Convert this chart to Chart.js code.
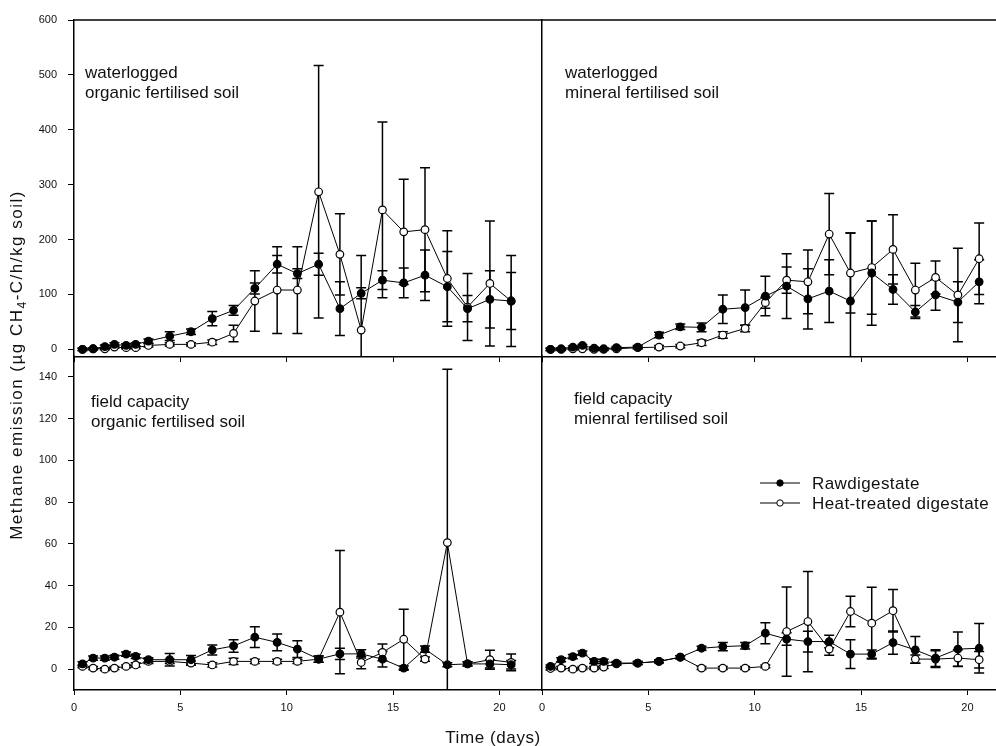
<!DOCTYPE html>
<html>
<head>
<meta charset="utf-8">
<title>Methane emission</title>
<script src="https://cdn.jsdelivr.net/npm/chart.js@4.4.1/dist/chart.umd.min.js"></script>
<style>
    html, body { margin: 0; padding: 0; background: #fff; overflow: hidden; }
    #figure { position: relative; width: 996px; height: 746px; }
    #figure canvas { position: absolute; left: 0; top: 0; }
</style>
</head>
<body>
<div id="figure">
    <canvas id="panelTL" width="996" height="746"></canvas>
    <canvas id="panelTR" width="996" height="746"></canvas>
    <canvas id="panelBL" width="996" height="746"></canvas>
    <canvas id="panelBR" width="996" height="746"></canvas>
</div>
<script>
// ============================================
// DATA
// ============================================

// sampling days, shared by every panel
const DAYS = [0.4, 0.9, 1.45, 1.9, 2.45, 2.9, 3.5, 4.5, 5.5, 6.5, 7.5, 8.5, 9.55, 10.5, 11.5, 12.5, 13.5, 14.5, 15.5, 16.5, 17.55, 18.5, 19.55, 20.55];

// waterlogged, organic fertilised soil
const WO_RAW      = [0, 1, 5, 9, 7, 9, 15, 24, 32, 56, 71, 111, 155, 138, 155, 74, 102, 126, 121, 135, 114, 74, 91, 88];
const WO_RAW_ERR  = [2, 2, 3, 3, 3, 3, 4, 8, 5, 13, 9, 10, 16, 9, 20, 49, 10, 17, 27, 46, 64, 24, 52, 52];
const WO_HEAT     = [0, 1, 1, 4, 3, 3, 7, 9, 9, 13, 29, 88, 108, 108, 287, 173, 35, 254, 214, 218, 129, 77, 120, 88];
const WO_HEAT_ERR = [2, 2, 2, 2, 2, 2, 3, 3, 3, 4, 15, 55, 79, 79, 230, 74, 136, 160, 96, 113, 87, 61, 114, 83];

// waterlogged, mineral fertilised soil
const WM_RAW      = [0, 1, 4, 7, 2, 1, 3, 4, 26, 41, 40, 73, 76, 97, 115, 92, 106, 88, 139, 109, 68, 99, 86, 123];
const WM_RAW_ERR  = [2, 2, 2, 2, 2, 2, 2, 3, 5, 5, 8, 26, 32, 36, 59, 55, 57, 124, 95, 27, 12, 28, 37, 40];
const WM_HEAT     = [0, 0, 1, 1, 0, 0, 1, 3, 4, 6, 12, 26, 38, 85, 126, 123, 210, 139, 149, 182, 108, 131, 99, 165];
const WM_HEAT_ERR = [2, 2, 2, 2, 2, 2, 2, 2, 3, 3, 5, 6, 6, 10, 24, 58, 74, 73, 85, 63, 49, 30, 85, 65];

// field capacity, organic fertilised soil
const FO_RAW      = [2.5, 5.3, 5.3, 5.7, 7.2, 6.1, 4.5, 4.5, 4.5, 9.2, 11.1, 15.3, 12.8, 9.6, 4.8, 7.3, 7.3, 4.8, 0.5, 9.6, 2.1, 2.5, 2.5, 2.1];
const FO_RAW_ERR  = [1, 1, 1, 1, 1, 1, 1, 3, 2, 2.4, 3, 5, 4, 4, 1.5, 2.7, 2, 3.8, 1, 1.5, 1, 1, 2, 2];
const FO_HEAT     = [1.3, 0.5, 0, 0.5, 1.3, 2, 3.7, 3.7, 2.9, 2, 3.7, 3.7, 3.7, 3.7, 4.8, 27.3, 3.2, 8, 14.3, 4.8, 60.6, 2.5, 4.5, 3.2];
const FO_HEAT_ERR = [0.7, 0.7, 0.7, 0.7, 0.7, 1, 1, 1, 1, 1, 1.5, 1, 1, 1, 1.5, 29.5, 3, 4, 14.4, 1, 83, 1, 4.5, 4];

// field capacity, mineral fertilised soil
const FM_RAW      = [1.3, 4.5, 6, 7.7, 3.7, 3.7, 2.9, 2.9, 3.7, 5.7, 10, 10.8, 11.2, 17.2, 14.4, 13.2, 13.2, 7.2, 7.2, 12.7, 9.2, 5.3, 9.6, 10];
const FM_RAW_ERR  = [0.7, 1, 1, 1, 1, 1, 0.7, 0.7, 0.7, 0.7, 1, 2, 1.5, 5, 3, 5, 3, 6.9, 2, 5.6, 6.4, 4, 8.2, 11.8];
const FM_HEAT     = [0.3, 0.5, 0, 0.5, 0.5, 1, 2.5, 2.9, 3.7, 5.7, 0.5, 0.5, 0.5, 1.3, 18, 22.8, 9.6, 27.6, 22, 28, 4.8, 4.8, 5.3, 4.5];
const FM_HEAT_ERR = [0.7, 0.7, 0.7, 0.7, 0.7, 0.7, 0.7, 0.7, 0.7, 0.7, 0.7, 0.7, 0.7, 0.7, 21.4, 24, 3, 7.3, 17.2, 10.2, 2, 4, 4, 4];

// axis ticks
const X_TICKS = [0, 5, 10, 15, 20];
const Y_TICKS_TOP = [0, 100, 200, 300, 400, 500, 600];
const Y_TICKS_BOTTOM = [0, 20, 40, 60, 80, 100, 120, 140];

// texts
const SERIES_LABELS = ['Rawdigestate', 'Heat-treated digestate'];
const X_TITLE = 'Time (days)';
const Y_TITLE_PARTS = ['Methane emission (\u00b5g CH', '4', '-C/h/kg soil)'];

// ============================================
// LAYOUT
// ============================================
const FONT = "'Liberation Sans', Arial, sans-serif";
const W = 996, H = 746;
const Y_AXIS_W = 48;   // room for left tick labels
const X_AXIS_H = 30;   // room for bottom tick labels
const CAP = 5;         // half width of error bar caps

/**
 * Error bars, drawn under the markers, clipped to the plot area
 */
const errorBarsPlugin = {
    id: 'errorBars',
    beforeDatasetsDraw(chart) {
        const { ctx, chartArea: a, scales: { x, y } } = chart;
        ctx.save();
        ctx.beginPath();
        ctx.rect(a.left, a.top, a.right - a.left, a.bottom - a.top);
        ctx.clip();
        ctx.strokeStyle = '#000';
        ctx.lineWidth = 1.5;
        chart.data.datasets.forEach(ds => {
            (ds.errors || []).forEach((err, i) => {
                const p = ds.data[i];
                const px = x.getPixelForValue(p.x);
                const top = y.getPixelForValue(p.y + err);
                const bot = y.getPixelForValue(p.y - err);
                ctx.beginPath();
                ctx.moveTo(px, top); ctx.lineTo(px, bot);
                ctx.moveTo(px - CAP, top); ctx.lineTo(px + CAP, top);
                ctx.moveTo(px - CAP, bot); ctx.lineTo(px + CAP, bot);
                ctx.stroke();
            });
        });
        ctx.restore();
    }
};

/**
 * Frame top line, panel caption, legend and shared axis titles
 */
const decorPlugin = {
    id: 'decor',
    afterDraw(chart, args, opts) {
        const { ctx, chartArea: a } = chart;
        ctx.save();
        ctx.fillStyle = '#111';
        ctx.strokeStyle = '#000';

        if (opts.topBorder) {
            ctx.lineWidth = 1.5;
            ctx.beginPath();
            ctx.moveTo(a.left, a.top);
            ctx.lineTo(a.right, a.top);
            ctx.stroke();
        }

        // caption, two lines
        ctx.font = `17px ${FONT}`;
        ctx.textBaseline = 'middle';
        ctx.textAlign = 'left';
        (opts.caption || []).forEach((line, i) => {
            ctx.fillText(line, opts.captionX, opts.captionY + i * 20);
        });

        if (opts.legend) {
            const lg = opts.legend;
            const fills = ['#000', '#fff'];
            SERIES_LABELS.forEach((label, i) => {
                const ly = lg.y + i * 20;
                ctx.lineWidth = 1.2;
                ctx.beginPath();
                ctx.moveTo(lg.x, ly);
                ctx.lineTo(lg.x + 40, ly);
                ctx.stroke();
                ctx.beginPath();
                ctx.arc(lg.x + 20, ly, 3.2, 0, Math.PI * 2);
                ctx.fillStyle = fills[i];
                ctx.fill();
                ctx.lineWidth = 1;
                ctx.stroke();
                ctx.fillStyle = '#111';
                ctx.letterSpacing = '0.4px';
                ctx.fillText(label, lg.x + 52, ly + 1);
                ctx.letterSpacing = '0px';
            });
        }

        if (opts.titles) {
            // x title
            ctx.font = `17px ${FONT}`;
            ctx.textAlign = 'center';
            ctx.textBaseline = 'alphabetic';
            ctx.letterSpacing = '0.6px';
            ctx.fillText(X_TITLE, 493, 743);

            // y title with subscript 4
            ctx.letterSpacing = '1.5px';
            const big = `17px ${FONT}`, small = `12px ${FONT}`;
            ctx.font = big;
            const w0 = ctx.measureText(Y_TITLE_PARTS[0]).width;
            const w2 = ctx.measureText(Y_TITLE_PARTS[2]).width;
            ctx.font = small;
            const w1 = ctx.measureText(Y_TITLE_PARTS[1]).width;
            const total = w0 + w1 + w2;
            ctx.translate(22, 365);
            ctx.rotate(-Math.PI / 2);
            ctx.textAlign = 'left';
            let cx = -total / 2;
            ctx.font = big;
            ctx.fillText(Y_TITLE_PARTS[0], cx, 0);
            cx += w0;
            ctx.font = small;
            ctx.fillText(Y_TITLE_PARTS[1], cx, 4);
            cx += w1;
            ctx.font = big;
            ctx.fillText(Y_TITLE_PARTS[2], cx, 0);
            ctx.letterSpacing = '0px';
        }
        ctx.restore();
    }
};

function toPoints(values) {
    return DAYS.map((d, i) => ({ x: d, y: values[i] }));
}

function makeSeries(label, values, errors, fill) {
    return {
        label,
        data: toPoints(values),
        errors,
        showLine: true,
        borderColor: '#000',
        borderWidth: 1,
        pointRadius: 3.8,
        pointBorderWidth: 1.2,
        pointBackgroundColor: fill,
        pointBorderColor: '#000'
    };
}

/**
 * Builds one panel on its own full-size canvas; the plot area is placed with layout padding
 */
function buildPanel(canvasId, p) {
    const ctx = document.getElementById(canvasId).getContext('2d');
    const a = p.area;
    const yw = p.yLabels ? Y_AXIS_W : 0;
    const xh = p.xLabels ? X_AXIS_H : 0;
    const xMax = 22 * (a.right - a.left) / 468;

    return new Chart(ctx, {
        type: 'scatter',
        data: {
            datasets: [
                makeSeries(SERIES_LABELS[0], p.raw, p.rawErr, '#000'),
                makeSeries(SERIES_LABELS[1], p.heat, p.heatErr, '#fff')
            ]
        },
        options: {
            responsive: false,
            animation: false,
            events: [],
            layout: {
                autoPadding: false,
                padding: { left: a.left - yw, right: W - a.right, top: a.top, bottom: H - a.bottom - xh }
            },
            scales: {
                x: {
                    type: 'linear',
                    min: 0,
                    max: xMax,
                    afterBuildTicks: s => { s.ticks = X_TICKS.map(v => ({ value: v })); },
                    afterFit: s => { s.height = xh; },
                    ticks: {
                        display: p.xLabels,
                        includeBounds: false,
                        color: '#111',
                        font: { family: FONT, size: 11 },
                        padding: 6,
                        maxRotation: 0
                    },
                    grid: { drawOnChartArea: false, drawTicks: true, tickLength: 5, tickColor: '#000', tickWidth: 1 },
                    border: { display: true, color: '#000', width: 1.5 }
                },
                y: {
                    type: 'linear',
                    min: p.yMin,
                    max: p.yMax,
                    afterBuildTicks: s => { s.ticks = p.yTicks.map(v => ({ value: v })); },
                    afterFit: s => { s.width = yw; },
                    ticks: {
                        display: p.yLabels,
                        includeBounds: false,
                        color: '#111',
                        font: { family: FONT, size: 11 },
                        padding: 11
                    },
                    grid: { drawOnChartArea: false, drawTicks: p.yLabels, tickLength: 6, tickColor: '#000', tickWidth: 1 },
                    border: { display: true, color: '#000', width: 1.5 }
                }
            },
            plugins: {
                legend: { display: false },
                tooltip: { enabled: false },
                decor: {
                    topBorder: p.topBorder,
                    caption: p.caption,
                    captionX: p.captionX,
                    captionY: p.captionY,
                    legend: p.legend || null,
                    titles: !!p.titles
                }
            }
        },
        plugins: [errorBarsPlugin, decorPlugin]
    });
}

buildPanel('panelTL', {
    area: { left: 74, right: 542, top: 20, bottom: 357 },
    yMin: -14, yMax: 600, yTicks: Y_TICKS_TOP,
    yLabels: true, xLabels: false, topBorder: true,
    raw: WO_RAW, rawErr: WO_RAW_ERR, heat: WO_HEAT, heatErr: WO_HEAT_ERR,
    caption: ['waterlogged', 'organic fertilised soil'], captionX: 85, captionY: 73
});

buildPanel('panelTR', {
    area: { left: 542, right: 996, top: 20, bottom: 357 },
    yMin: -14, yMax: 600, yTicks: Y_TICKS_TOP,
    yLabels: false, xLabels: false, topBorder: true,
    raw: WM_RAW, rawErr: WM_RAW_ERR, heat: WM_HEAT, heatErr: WM_HEAT_ERR,
    caption: ['waterlogged', 'mineral fertilised soil'], captionX: 565, captionY: 73
});

buildPanel('panelBL', {
    area: { left: 74, right: 542, top: 356, bottom: 690 },
    yMin: -10, yMax: 150, yTicks: Y_TICKS_BOTTOM,
    yLabels: true, xLabels: true, topBorder: false,
    raw: FO_RAW, rawErr: FO_RAW_ERR, heat: FO_HEAT, heatErr: FO_HEAT_ERR,
    caption: ['field capacity', 'organic fertilised soil'], captionX: 91, captionY: 402,
    titles: true
});

buildPanel('panelBR', {
    area: { left: 542, right: 996, top: 356, bottom: 690 },
    yMin: -10, yMax: 150, yTicks: Y_TICKS_BOTTOM,
    yLabels: false, xLabels: true, topBorder: false,
    raw: FM_RAW, rawErr: FM_RAW_ERR, heat: FM_HEAT, heatErr: FM_HEAT_ERR,
    caption: ['field capacity', 'mienral fertilised soil'], captionX: 574, captionY: 399,
    legend: { x: 760, y: 483 }
});
</script>
</body>
</html>
